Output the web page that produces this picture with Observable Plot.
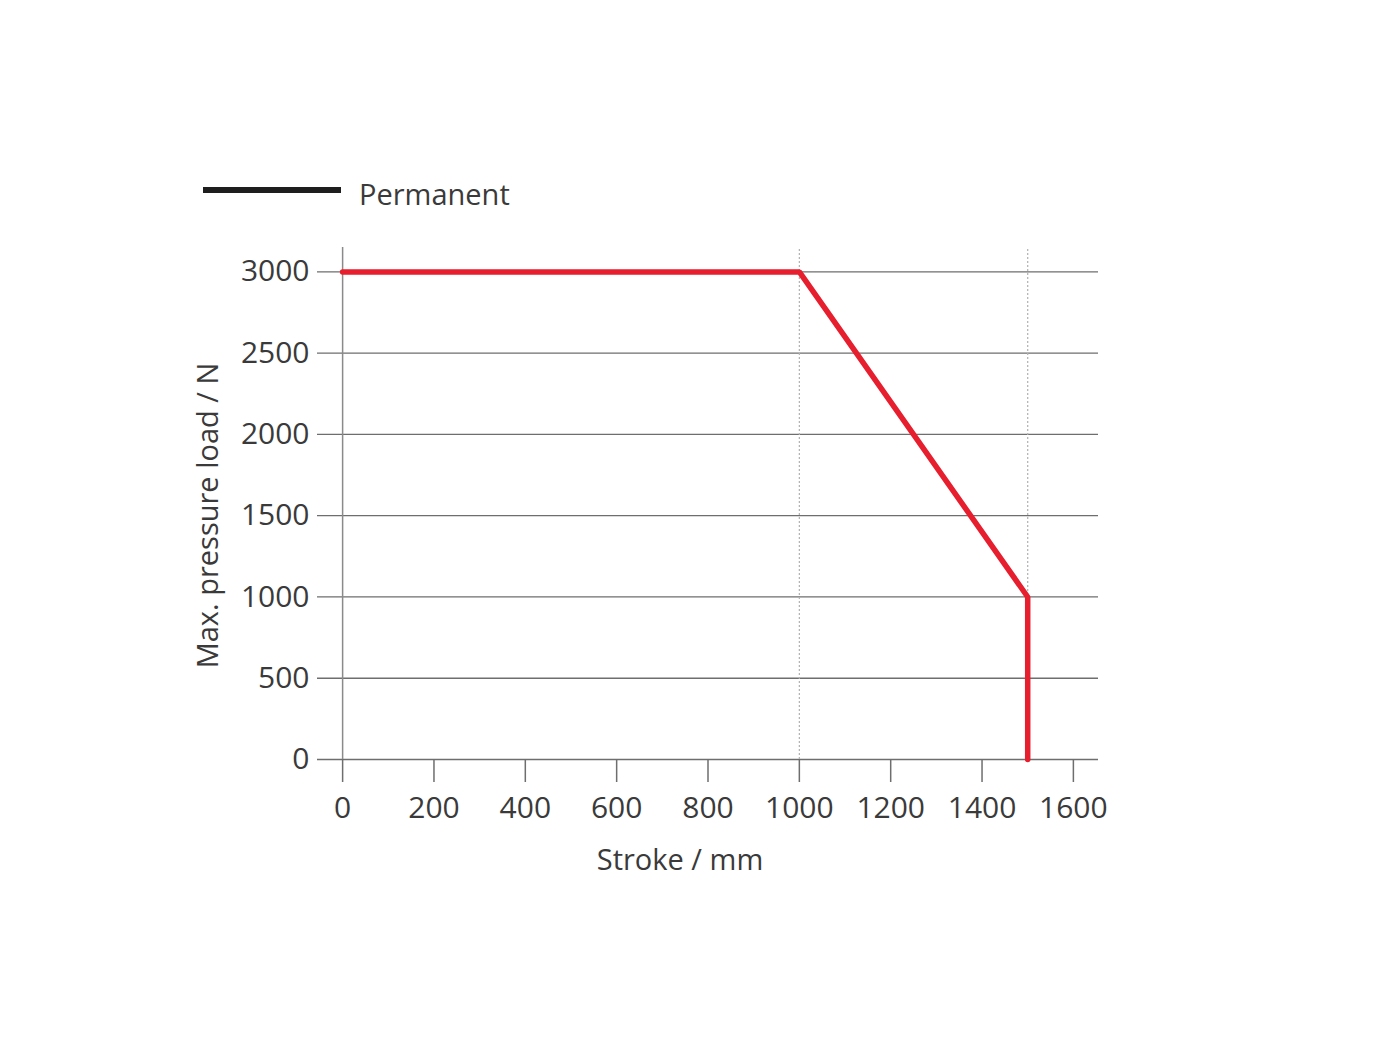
<!DOCTYPE html>
<html><head><meta charset="utf-8">
<script src="https://cdn.jsdelivr.net/npm/d3@7"></script>
<script src="https://cdn.jsdelivr.net/npm/@observablehq/plot@0.6"></script>
<style>
body{margin:0;background:#fff;font-family:"Open Sans",sans-serif;}
#legend{position:relative;height:230px;width:1400px;}
#legend .sw{position:absolute;left:203px;top:187px;width:138px;height:6px;background:#1e1e1e;}
#legend .lb{position:absolute;left:359px;top:174px;font-size:29px;color:#3a3a3a;}
</style></head><body>
<div id="legend"><div class="sw"></div><div class="lb">Permanent</div></div>
<div id="chart"></div>
<script>
const strokeMm = [0, 1000, 1500, 1500];
const loadN = [3000, 3000, 1000, 0];
const xTicks = [0, 200, 400, 600, 800, 1000, 1200, 1400, 1600];
const yTicks = [0, 500, 1000, 1500, 2000, 2500, 3000];
const markers = [1000, 1500];
const xLabel = "Stroke / mm";
const yLabel = "Max. pressure load / N";

const pts = strokeMm.map((x, i) => ({x, y: loadN[i]}));
const ink = "#3a3a3a";
const fmt = d3.format("d");

const plot = Plot.plot({
  width: 1400, height: 820,
  marginLeft: 317, marginRight: 302, marginTop: 17, marginBottom: 291,
  x: {domain: [-55, 1655]},
  y: {domain: [0, 3150]},
  style: {fontFamily: "Open Sans, sans-serif", fontSize: "30px", color: ink, background: "#fff"},
  marks: [
    Plot.ruleY(yTicks, {stroke: "#6e6e6e", strokeWidth: 1.3}),
    Plot.ruleX([0], {y1: 0, y2: 3150, stroke: "#8a8a8a", strokeWidth: 1.5}),
    Plot.ruleX(markers, {y1: 0, y2: 3150, stroke: "#b0b0b0", strokeWidth: 1.2, strokeDasharray: "2,2"}),
    Plot.axisX({ticks: xTicks, tickFormat: fmt, tickSize: 23, tickPadding: 14, stroke: "#6e6e6e", strokeWidth: 1.5, label: null, fill: ink}),
    Plot.axisY({ticks: yTicks, tickFormat: fmt, tickSize: 0, tickPadding: 8, label: null, fill: ink}),
    Plot.line(pts, {x: "x", y: "y", stroke: "#e61e2d", strokeWidth: 5.5, strokeLinejoin: "miter"}),
    Plot.text([xLabel], {frameAnchor: "bottom", dx: -28, dy: 110, text: d => d, fill: ink, fontSize: 29}),
    Plot.text([yLabel], {frameAnchor: "left", textAnchor: "middle", rotate: -90, dx: -109, dy: 12, text: d => d, fill: ink, fontSize: 29})
  ]
});
document.getElementById("chart").appendChild(plot);
</script></body></html>
